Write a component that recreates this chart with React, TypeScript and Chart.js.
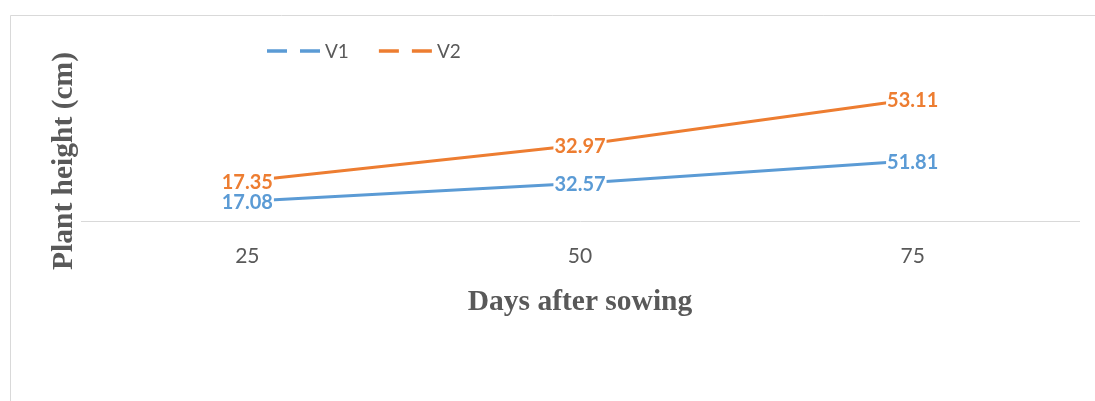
import { useEffect, useRef } from "react";
import { Chart, registerables } from "chart.js";

Chart.register(...registerables);

// Days after sowing (category axis)
const categories = ["25", "50", "75"];
// Plant height (cm) per variety
const v1Heights = [17.08, 32.57, 51.81];
const v2Heights = [17.35, 32.97, 53.11];
const seriesNames = ["V1", "V2"];
const seriesColors = ["#5B9BD5", "#ED7D31"];
const yAxisTitle = "Plant height (cm)";
const xAxisTitle = "Days after sowing";

const W = 1095;
const H = 401;
const TEXT_GRAY = "#595959";
const FRAME_GRAY = "#d9d9d9";

const decorPlugin = {
  id: "decor",
  beforeDraw(chart: any) {
    const ctx = chart.ctx as CanvasRenderingContext2D;
    ctx.save();
    ctx.fillStyle = "#ffffff";
    ctx.fillRect(0, 0, W, H);
    // outer frame (top and left edges)
    ctx.strokeStyle = FRAME_GRAY;
    ctx.lineWidth = 1;
    ctx.beginPath();
    ctx.moveTo(10.5, H);
    ctx.lineTo(10.5, 15.5);
    ctx.lineTo(W, 15.5);
    ctx.stroke();
    ctx.restore();
  },
  afterDatasetsDraw(chart: any) {
    const ctx = chart.ctx as CanvasRenderingContext2D;
    ctx.save();
    ctx.font = "bold 20px Lato";
    ctx.textAlign = "center";
    ctx.textBaseline = "middle";
    chart.data.datasets.forEach((ds: any, i: number) => {
      const meta = chart.getDatasetMeta(i);
      meta.data.forEach((pt: any, j: number) => {
        const text = Number(ds.data[j]).toFixed(2);
        const w = ctx.measureText(text).width;
        const cy = pt.y + 1.5;
        ctx.fillStyle = "#ffffff";
        ctx.fillRect(pt.x - w / 2 - 1, cy - 8, w + 2, 16);
        ctx.fillStyle = ds.borderColor;
        ctx.fillText(text, pt.x, cy);
      });
    });
    ctx.restore();
  },
  afterDraw(chart: any) {
    const ctx = chart.ctx as CanvasRenderingContext2D;
    ctx.save();

    // legend with dashed markers
    let x = 267;
    const ly = 51;
    ctx.font = "19px Lato";
    ctx.textBaseline = "middle";
    ctx.textAlign = "left";
    chart.data.datasets.forEach((ds: any) => {
      ctx.strokeStyle = ds.borderColor;
      ctx.lineWidth = 3.5;
      ctx.setLineDash([20, 13]);
      ctx.beginPath();
      ctx.moveTo(x, ly);
      ctx.lineTo(x + 53, ly);
      ctx.stroke();
      ctx.setLineDash([]);
      ctx.fillStyle = TEXT_GRAY;
      ctx.fillText(ds.label, x + 58, ly + 1);
      x += 58 + ctx.measureText(ds.label).width + 30;
    });

    // axis titles
    ctx.fillStyle = TEXT_GRAY;
    ctx.font = "bold 29.5px 'Liberation Serif'";
    ctx.textAlign = "center";
    ctx.textBaseline = "alphabetic";
    const area = chart.chartArea;
    ctx.fillText(xAxisTitle, (area.left + area.right) / 2, 310);

    ctx.translate(64, 161);
    ctx.rotate(-Math.PI / 2);
    ctx.textBaseline = "middle";
    ctx.fillText(yAxisTitle, 0, 0);
    ctx.restore();
  },
};

export default function App() {
  const canvasRef = useRef<HTMLCanvasElement | null>(null);

  useEffect(() => {
    const canvas = canvasRef.current;
    if (!canvas) return;
    const chart = new Chart(canvas, {
      type: "line",
      data: {
        labels: categories,
        datasets: [
          {
            label: seriesNames[0],
            data: v1Heights,
            borderColor: seriesColors[0],
            backgroundColor: seriesColors[0],
            borderWidth: 3,
            pointRadius: 0,
            fill: false,
            tension: 0,
          },
          {
            label: seriesNames[1],
            data: v2Heights,
            borderColor: seriesColors[1],
            backgroundColor: seriesColors[1],
            borderWidth: 3,
            pointRadius: 0,
            fill: false,
            tension: 0,
          },
        ],
      },
      options: {
        responsive: false,
        animation: false,
        devicePixelRatio: 1,
        layout: { padding: { left: 81, right: 16, top: 84, bottom: 0 } },
        plugins: {
          legend: { display: false },
          title: { display: false },
          tooltip: { enabled: false },
        },
        scales: {
          x: {
            type: "category",
            offset: true,
            grid: { display: false, drawTicks: false, tickLength: 0 },
            border: { display: true, color: FRAME_GRAY, width: 1 },
            ticks: {
              color: TEXT_GRAY,
              font: { family: "Lato", size: 21 },
              padding: 23,
            },
            afterFit: (scale: any) => {
              scale.height = 180;
            },
          },
          y: {
            display: false,
            stacked: true,
            min: 0,
            max: 118,
          },
        },
      },
      plugins: [decorPlugin],
    });
    return () => chart.destroy();
  }, []);

  return (
    <div style={{ position: "absolute", left: 0, top: 0, width: W, height: H }}>
      <canvas ref={canvasRef} width={W} height={H} style={{ display: "block" }} />
    </div>
  );
}
